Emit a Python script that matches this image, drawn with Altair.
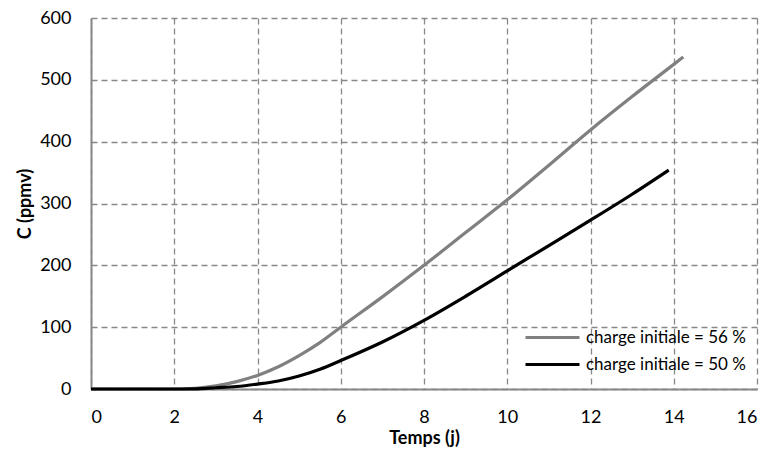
import altair as alt
import pandas as pd

# Series values
x_56 = [0, 1, 2, 2.5, 3, 3.5, 4, 4.5, 5, 5.5, 6, 7, 8, 9, 10, 11, 12, 13, 14, 14.23]
y_56 = [0, 0, 0, 1, 5, 12, 22, 36, 54, 75, 100, 149, 200, 253, 306, 362, 419, 473, 525, 537]

x_50 = [0, 1, 2, 2.5, 3, 3.5, 4, 4.5, 5, 5.5, 6, 7, 8, 9, 10, 11, 12, 13, 13.88]
y_50 = [0, 0, 0, 0.3, 2, 4, 8, 13, 21, 32, 46, 76, 111, 150, 191, 232, 273, 315, 354]

series_names = ["charge initiale = 56 %", "charge initiale = 50 %"]
series_colors = ["#808080", "#000000"]

x_ticks = [0, 2, 4, 6, 8, 10, 12, 14, 16]
y_ticks = [0, 100, 200, 300, 400, 500, 600]

df = pd.concat([
    pd.DataFrame({"t": x_56, "c": y_56, "serie": series_names[0], "o": 0}),
    pd.DataFrame({"t": x_50, "c": y_50, "serie": series_names[1], "o": 1}),
])

FONT = "Lato"

chart = alt.Chart(df).mark_line(strokeWidth=3.2, interpolate="monotone").encode(
    x=alt.X("t:Q", title="Temps (j)",
            scale=alt.Scale(domain=[0, 16], nice=False),
            axis=alt.Axis(values=x_ticks, ticks=False, labelPadding=19,
                          titleY=49, titleBaseline="middle")),
    y=alt.Y("c:Q", title="C (ppmv)",
            scale=alt.Scale(domain=[0, 600], nice=False),
            axis=alt.Axis(values=y_ticks, ticks=False, labelPadding=20,
                          titleX=-66, titleY=185.5, titleBaseline="middle")),
    color=alt.Color("serie:N",
                    scale=alt.Scale(domain=series_names, range=series_colors),
                    legend=alt.Legend(title=None, orient="none", legendX=453, legendY=311,
                                      symbolType="M-6,0L6,0", symbolSize=81,
                                      symbolStrokeWidth=3.2, labelOffset=25,
                                      labelFontSize=17, labelFont=FONT, labelLimit=0,
                                      labelColor="#000000", rowPadding=9)),
    order="o:Q",
).properties(
    width=666, height=371,
    autosize=alt.AutoSizeParams(type="none"),
    padding={"left": 83, "top": 10, "right": 6, "bottom": 62},
).configure_view(stroke=None).configure_axis(
    grid=True, gridColor="#888888", gridDash=[6, 4], gridWidth=1.3,
    domainColor="#888888", domainWidth=2,
    labelFont=FONT, labelFontSize=18, labelColor="#000000",
    titleFont=FONT, titleFontSize=18, titleFontWeight="bold", titleColor="#000000",
)

chart.save("out.html", embed_options={"renderer": "svg", "actions": False})
